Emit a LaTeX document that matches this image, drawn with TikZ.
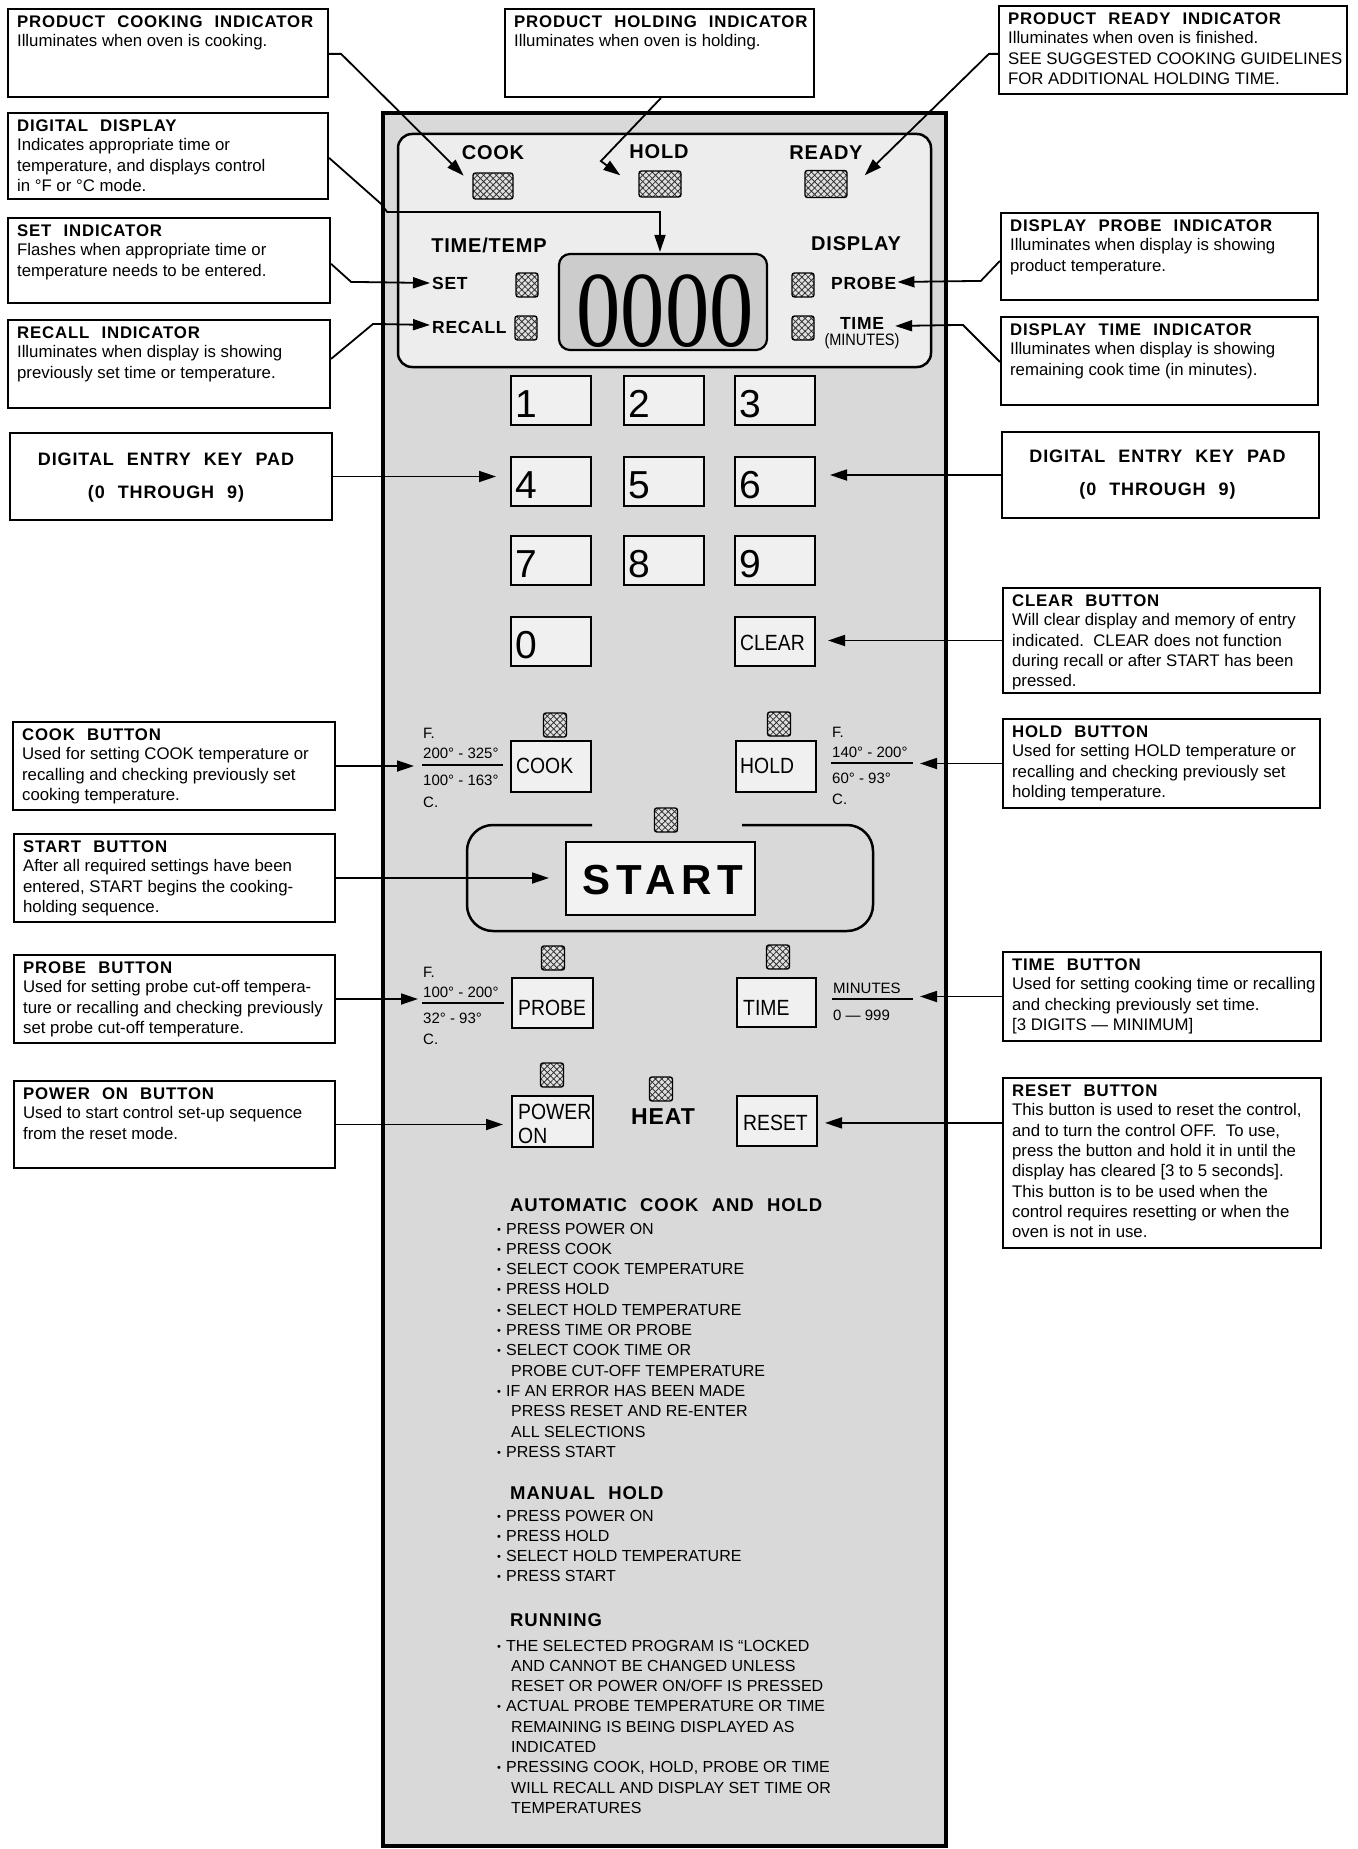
\documentclass[tikz,border=0pt]{standalone}
\usepackage{fontspec}
\setmainfont{Liberation Sans}
\newfontfamily\tfont[LetterSpace=5,WordSpace=2.2]{Liberation Sans}
\newfontfamily\pfont[LetterSpace=4]{Liberation Sans}
\newfontfamily\sfont[LetterSpace=14]{Liberation Sans}
\newfontfamily\cfont[FakeStretch=0.88]{Liberation Sans}
\newfontfamily\dfont{Liberation Serif}
\usetikzlibrary{arrows.meta,calc,patterns.meta}
\newcommand\fs[1]{\fontsize{#1}{20.3}\selectfont}
\newcommand\ttl[1]{{\tfont\bfseries #1}\\[-1.3pt]}
\newcommand\bl{\makebox[9pt][l]{\fontsize{11}{11}\selectfont\raisebox{1pt}{•}}}
\newcommand\ct{\hspace*{14pt}}
\newcommand\ibx[6]{%
  \node[ibox, minimum width={#4-#2}, minimum height={#5-#3}] (#1) at ({(#2+#4)/2},{(#3+#5)/2}) {};
  \node[itext] (#1t) at ($(#1.north west)+(10,20)$) {\parbox[t]{350pt}{\fs{16.8}#6}};%
}
\newcommand\kd[4]{%
  \node[keyb] (#1) at ({#2+40},{#3+24.5}) {};
  \node[dig] (#1l) at ($(#1.north west)+(5,42)$) {#4};%
}
\newcommand\ind[5]{\node[ind, minimum width=#4, minimum height=#5] (#1) at (#2,#3) {};}
\begin{document}
\begin{tikzpicture}[x=1pt,y=-1pt,
  ibox/.style={draw, line width=2.2pt, fill=white, inner sep=0pt},
  itext/.style={anchor=base west, inner sep=0pt},
  conn/.style={line width=1.8pt, -{Triangle[length=17pt,width=11pt]}},
  keyb/.style={draw, line width=2pt, fill=black!6, inner sep=0pt, minimum width=80pt, minimum height=49pt},
  dig/.style={anchor=base west, inner sep=0pt, font=\fontsize{39}{39}\selectfont},
  blab/.style={anchor=base west, inner sep=0pt, font=\cfont\fontsize{22}{24}\selectfont},
  ind/.style={draw, line width=1.4pt, rounded corners=2.5pt, inner sep=0pt,
    preaction={fill=black!12}, pattern={Hatch[angle=45,distance=4.5pt,line width=0.8pt]}, pattern color=black!80},
  plab/.style={inner sep=0pt, font=\pfont\bfseries\fontsize{20}{20}\selectfont},
  slab/.style={inner sep=0pt, font=\pfont\bfseries\fontsize{17.5}{17.5}\selectfont},
  tl/.style={anchor=west, inner sep=0pt, font=\fontsize{15}{15}\selectfont},
  rule/.style={line width=2.2pt},
  sect/.style={anchor=base west, inner sep=0pt, font=\tfont\bfseries\fontsize{18.5}{20}\selectfont},
  items/.style={anchor=base west, inner sep=0pt}
]
\useasboundingbox (0,0) rectangle (1357,1849);
\fill[white] (0,0) rectangle (1357,1849);

% ---------------- control panel ----------------
\node[draw, line width=4.5pt, fill=black!15, inner sep=0pt, minimum width=563, minimum height=1733] (panel) at ({(383+946)/2},{(113+1846)/2}) {};
\node[draw, line width=2.5pt, rounded corners=14pt, fill=black!7, inner sep=0pt, minimum width=533, minimum height=233] (disp) at ({(398+931)/2},{(134+367)/2}) {};

\node[plab] (lcook) at (493,153) {COOK};
\node[plab] (lhold) at (659,152) {HOLD};
\node[plab] (lready) at (826,153) {READY};
\ind{icook}{493}{186}{40}{26}
\ind{ihold}{660}{184}{42}{26}
\ind{iready}{826}{184}{42}{27}
\node[plab] (ltt) at (489,245) {TIME/TEMP};
\node[plab] (ldisp) at (856,244) {DISPLAY};

\node[draw, line width=2.2pt, rounded corners=11pt, fill=black!20, inner sep=0pt, minimum width=208, minimum height=96] (dbox) at (663,302) {};
\node[anchor=base, inner sep=0pt] (dnum) at (665,346) {\scalebox{0.82}[1]{\dfont\fontsize{108}{108}\selectfont 0000}};

\node[slab, anchor=west] (lset) at (432,283) {SET};
\node[slab, anchor=west] (lrecall) at (432,327) {RECALL};
\ind{iset}{527}{285}{22}{24}
\ind{irec}{526}{328}{22}{24}
\ind{iprb}{803}{285}{22}{24}
\ind{itim}{803}{328}{22}{24}
\node[slab, anchor=west] (lprobe) at (831,283) {PROBE};
\node[slab] (ltime) at (862,323) {TIME};
\node[inner sep=0pt, font=\cfont\fontsize{16.5}{16.5}\selectfont] (lmin) at (862,341) {(MINUTES)};

% keypad
\kd{k1}{511}{376}{1}
\kd{k2}{624}{376}{2}
\kd{k3}{735}{376}{3}
\kd{k4}{511}{457}{4}
\kd{k5}{624}{457}{5}
\kd{k6}{735}{457}{6}
\kd{k7}{511}{536}{7}
\kd{k8}{624}{536}{8}
\kd{k9}{735}{536}{9}
\kd{k0}{511}{617}{0}
\node[keyb] (kclr) at (775,641.5) {};
\node[blab] (kclrl) at (740,650) {CLEAR};

% cook / hold
\ind{icookb}{555}{725}{23}{24}
\ind{iholdb}{779}{724}{23}{24}
\node[keyb, minimum height=51pt] (kcook) at (551,766.5) {};
\node[blab] (kcookl) at (516,773) {COOK};
\node[keyb, minimum height=51pt] (khold) at (776,766.5) {};
\node[blab] (kholdl) at (740,773) {HOLD};
\node[tl] (cF) at (423,733) {F.};
\node[tl] (c1) at (423,753) {200° - 325°};
\draw[rule] (422,765) -- (503,765);
\node[tl] (c2) at (423,780) {100° - 163°};
\node[tl] (cC) at (423,802) {C.};
\node[tl] (hF) at (832,732) {F.};
\node[tl] (h1) at (832,752) {140° - 200°};
\coordinate (hr) at (913,763);
\draw[rule] (831,763) -- (hr);
\node[tl] (h2) at (832,778) {60° - 93°};
\node[tl] (hC) at (832,799) {C.};

% start
\draw[line width=2.5pt, rounded corners=26pt] (592,825) -- (467,825) -- (467,931) -- (873,931) -- (873,825) -- (742,825);
\ind{istart}{666}{820}{23}{24}
\node[draw, line width=2pt, fill=black!5, inner sep=0pt, minimum width=189, minimum height=73] (kstart) at (660.5,878.5) {};
\node[inner sep=0pt, font=\sfont\bfseries\fontsize{42}{42}\selectfont] (kstartl) at (663,880) {START};

% probe / time
\ind{iprobeb}{553}{958}{23}{24}
\ind{itimeb}{778}{957}{23}{24}
\node[keyb, minimum width=81pt, minimum height=50pt] (kprobe) at (552.5,1003) {};
\node[blab] (kprobel) at (518,1015) {PROBE};
\node[keyb, minimum width=79pt, minimum height=49pt] (ktime) at (776.5,1002.5) {};
\node[blab] (ktimel) at (743,1015) {TIME};
\node[tl] (pF) at (423,972) {F.};
\node[tl] (p1) at (423,992) {100° - 200°};
\draw[rule] (422,1003) -- (504,1003);
\node[tl] (p2) at (423,1018) {32° - 93°};
\node[tl] (pC) at (423,1039) {C.};
\node[tl] (m1) at (833,988) {MINUTES};
\coordinate (mr) at (913,999);
\draw[rule] (832,999) -- (mr);
\node[tl] (m2) at (833,1015) {0 — 999};

% power / heat / reset
\ind{ipower}{552}{1075}{23}{24}
\ind{iheat}{661}{1089}{23}{24}
\node[keyb, minimum width=81pt, minimum height=51pt] (kpow) at (552.5,1121.5) {};
\node[anchor=base west, inner sep=0pt] (kpowl) at (518,1119) {\parbox[t]{80pt}{\cfont\fontsize{22}{24}\selectfont POWER\\ON}};
\node[inner sep=0pt, font=\pfont\bfseries\fontsize{23}{23}\selectfont] (lheat) at (663,1117) {HEAT};
\node[keyb, minimum height=50pt] (kreset) at (777,1121) {};
\node[blab] (kresetl) at (743,1130) {RESET};

% instructions
\node[sect] (sauto) at (510,1211) {AUTOMATIC COOK AND HOLD};
\node[items] (iauto) at (497,1234) {\parbox[t]{430pt}{\fs{16}%
\bl PRESS POWER ON\\
\bl PRESS COOK\\
\bl SELECT COOK TEMPERATURE\\
\bl PRESS HOLD\\
\bl SELECT HOLD TEMPERATURE\\
\bl PRESS TIME OR PROBE\\
\bl SELECT COOK TIME OR\\
\ct PROBE CUT-OFF TEMPERATURE\\
\bl IF AN ERROR HAS BEEN MADE\\
\ct PRESS RESET AND RE-ENTER\\
\ct ALL SELECTIONS\\
\bl PRESS START}};
\node[sect] (smanual) at (510,1499) {MANUAL HOLD};
\node[items] (imanual) at (497,1521) {\parbox[t]{430pt}{\fs{16}%
\bl PRESS POWER ON\\
\bl PRESS HOLD\\
\bl SELECT HOLD TEMPERATURE\\
\bl PRESS START}};
\node[sect] (srun) at (510,1626) {RUNNING};
\node[items] (irun) at (497,1651) {\parbox[t]{430pt}{\fs{16}%
\bl THE SELECTED PROGRAM IS “LOCKED\\
\ct AND CANNOT BE CHANGED UNLESS\\
\ct RESET OR POWER ON/OFF IS PRESSED\\
\bl ACTUAL PROBE TEMPERATURE OR TIME\\
\ct REMAINING IS BEING DISPLAYED AS\\
\ct INDICATED\\
\bl PRESSING COOK, HOLD, PROBE OR TIME\\
\ct WILL RECALL AND DISPLAY SET TIME OR\\
\ct TEMPERATURES}};

% ---------------- callout boxes ----------------
\ibx{pci}{8}{9}{328}{97}{\ttl{PRODUCT COOKING INDICATOR}Illuminates when oven is cooking.}
\ibx{dd}{8}{113}{328}{199}{\ttl{DIGITAL DISPLAY}Indicates appropriate time or\\temperature, and displays control\\in °F or °C mode.}
\ibx{seti}{8}{218}{330}{303}{\ttl{SET INDICATOR}Flashes when appropriate time or\\temperature needs to be entered.}
\ibx{reci}{8}{320}{330}{408}{\ttl{RECALL INDICATOR}Illuminates when display is showing\\previously set time or temperature.}
\node[ibox, minimum width=322, minimum height=87] (kpl) at (171,476.5) {};
\node[anchor=base, inner sep=0pt] (kplt) at ($(kpl.north)+(-5,33.5)$) {\parbox[t]{310pt}{\centering\tfont\bfseries\fontsize{18}{33}\selectfont DIGITAL ENTRY KEY PAD\\(0 THROUGH 9)}};
\ibx{cookb}{13}{722}{335}{810}{\ttl{COOK BUTTON}Used for setting COOK temperature or\\recalling and checking previously set\\cooking temperature.}
\ibx{startb}{14}{834}{335}{922}{\ttl{START BUTTON}After all required settings have been\\entered, START begins the cooking-\\holding sequence.}
\ibx{probeb}{14}{955}{335}{1043}{\ttl{PROBE BUTTON}Used for setting probe cut-off tempera-\\ture or recalling and checking previously\\set probe cut-off temperature.}
\ibx{powerb}{14}{1081}{335}{1168}{\ttl{POWER ON BUTTON}Used to start control set-up sequence\\from the reset mode.}

\ibx{phi}{505}{9}{814}{97}{\ttl{PRODUCT HOLDING INDICATOR}Illuminates when oven is holding.}

\ibx{pri}{999}{6}{1347}{94}{\ttl{PRODUCT READY INDICATOR}Illuminates when oven is finished.\\SEE SUGGESTED COOKING GUIDELINES\\FOR ADDITIONAL HOLDING TIME.}
\ibx{dpi}{1001}{213}{1318}{300}{\ttl{DISPLAY PROBE INDICATOR}Illuminates when display is showing\\product temperature.}
\ibx{dti}{1001}{317}{1318}{405}{\ttl{DISPLAY TIME INDICATOR}Illuminates when display is showing\\remaining cook time (in minutes).}
\node[ibox, minimum width=317, minimum height=86] (kpr) at (1160.5,475) {};
\node[anchor=base, inner sep=0pt] (kprt) at ($(kpr.north)+(-3,31.5)$) {\parbox[t]{310pt}{\centering\tfont\bfseries\fontsize{18}{33}\selectfont DIGITAL ENTRY KEY PAD\\(0 THROUGH 9)}};
\ibx{clearb}{1003}{588}{1320}{693}{\ttl{CLEAR BUTTON}Will clear display and memory of entry\\indicated.\ \ CLEAR does not function\\during recall or after START has been\\pressed.}
\ibx{holdb}{1003}{719}{1320}{808}{\ttl{HOLD BUTTON}Used for setting HOLD temperature or\\recalling and checking previously set\\holding temperature.}
\ibx{timeb}{1003}{952}{1321}{1041}{\ttl{TIME BUTTON}Used for setting cooking time or recalling\\and checking previously set time.\\\relax[3 DIGITS — MINIMUM]}
\ibx{resetb}{1003}{1078}{1321}{1248}{\ttl{RESET BUTTON}This button is used to reset the control,\\and to turn the control OFF.\ \ To use,\\press the button and hold it in until the\\display has cleared [3 to 5 seconds].\\This button is to be used when the\\control requires resetting or when the\\oven is not in use.}

% ---------------- connectors ----------------
\draw[conn] ($(pci.north east)+(0,46)$) -- ++(12,0) -- ($(icook.north west)+(-9,3)$);
\draw[conn] ($(phi.south west)+(157,0)$) -- ++(-60,63) -- ($(ihold.north west)+(-18,5)$);
\draw[conn] ($(pri.north west)+(0,49)$) -- ++(-9,0) -- ($(iready.north east)+(17,5.5)$);
\draw[conn] ($(dd.north east)+(0,46)$) -- ++(52,46) -- ++(6,8) -| ($(dbox.north)+(-3,-1)$);
\draw[conn] ($(seti.north east)+(0,47)$) -- ++(20,18) -- ($(lset.west)+(-2,0)$);
\draw[conn] ($(reci.north east)+(0,40)$) -- ++(42,-35) -- ($(lrecall.west)+(-2,-2)$);
\draw[conn] ($(dpi.north west)+(0,49)$) -- ++(-19,20) -- ($(lprobe.east)+(1,-1)$);
\draw[conn] ($(dti.north west)+(0,46)$) -- ++(-37,-37) -- ($(ltime.east)+(11,3)$);
\draw[conn] (kpl.east) -- ($(kpl.east -| k4.west)+(-14,0)$);
\draw[conn] (kpr.west) -- ($(kpr.west -| k6.east)+(14,0)$);
\draw[conn] (clearb.west) -- ($(clearb.west -| kclr.east)+(12,0)$);
\draw[conn] (cookb.east) -- ($(cookb.east -| c1.west)+(-9,0)$);
\draw[conn] (holdb.west) -- ($(holdb.west -| hr)+(7,0)$);
\draw[conn] (startb.east) -- ($(startb.east -| kstart.west)+(-16,0)$);
\draw[conn] (probeb.east) -- ($(probeb.east -| p1.west)+(-5,0)$);
\draw[conn] (timeb.west) -- ($(timeb.west -| mr)+(7,0)$);
\draw[conn] (powerb.east) -- ($(powerb.east -| kpow.west)+(-8,0)$);
\draw[conn] ($(resetb.north west)+(0,46)$) coordinate (rs) -- ($(rs -| kreset.east)+(7,0)$);
\end{tikzpicture}
\end{document}
